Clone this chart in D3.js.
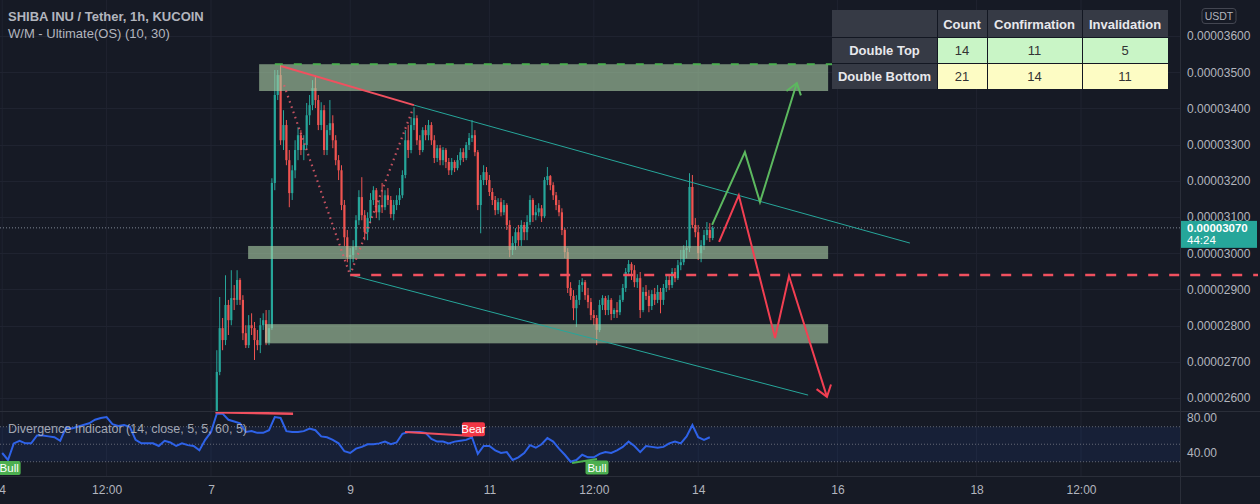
<!DOCTYPE html>
<html><head><meta charset="utf-8">
<script src="https://cdn.jsdelivr.net/npm/d3@7"></script>
<style>
html,body{margin:0;padding:0;background:#161a25;overflow:hidden;}
svg{display:block;}
text{font-family:"Liberation Sans",Arial,sans-serif;}
</style></head><body>
<svg id="chart" width="1260" height="504"></svg>
<script>
// ---------------- DATA ----------------
// Prices in units of 1e-8 USDT. Candles are hourly, first one at Dec 7 02:00.
const baseDay = new Date(2021, 11, 7, 0, 0);
const firstCandleHour = 2;
const candleOHLC = [
[2561,2732,2556,2672],[2672,2879,2663,2793],[2793,2821,2732,2760],[2760,2939,2746,2857],
[2857,2871,2774,2815],[2815,2953,2801,2876],[2876,2912,2843,2871],[2871,2953,2857,2926],
[2926,2931,2857,2871],[2871,2884,2760,2779],[2779,2801,2738,2746],[2746,2829,2738,2801],
[2801,2834,2774,2793],[2793,2810,2705,2760],[2760,2788,2732,2746],[2746,2821,2724,2801],
[2801,2834,2788,2815],[2815,2843,2746,2754],[2754,2843,2746,2793],[2793,3207,2788,3194],
[3194,3506,3174,3437],[3437,3506,3423,3492],[3492,3522,3299,3312],[3312,3395,3285,3354],
[3354,3368,3243,3257],[3257,3285,3127,3166],[3166,3243,3147,3229],[3229,3312,3207,3285],
[3285,3348,3257,3326],[3326,3340,3271,3285],[3285,3326,3257,3299],[3299,3415,3285,3381],
[3381,3437,3354,3409],[3409,3478,3395,3456],[3456,3489,3401,3423],[3423,3437,3340,3354],
[3354,3417,3340,3395],[3395,3409,3271,3285],[3285,3354,3271,3340],[3340,3423,3326,3359],
[3359,3381,3290,3312],[3312,3326,3243,3257],[3257,3271,3202,3229],[3229,3243,3119,3133],
[3133,3147,3020,3044],[3044,3064,2975,2989],[2989,3014,2948,2995],[2995,3036,2975,3017],
[3017,3105,3009,3091],[3091,3174,3078,3155],[3155,3210,3091,3105],[3105,3119,3036,3058],
[3058,3113,3036,3097],[3097,3166,3083,3147],[3147,3185,3133,3174],[3174,3180,3097,3113],
[3113,3147,3091,3133],[3133,3194,3111,3127],[3127,3174,3119,3160],[3160,3180,3133,3147],
[3147,3158,3097,3108],[3108,3147,3091,3133],[3133,3160,3119,3147],[3147,3180,3133,3160],
[3160,3229,3152,3216],[3216,3340,3207,3312],[3312,3354,3263,3285],[3285,3376,3276,3354],
[3354,3403,3340,3373],[3373,3381,3299,3312],[3312,3326,3271,3285],[3285,3348,3279,3340],
[3340,3354,3312,3326],[3326,3368,3312,3354],[3354,3362,3299,3312],[3312,3326,3249,3263],
[3263,3299,3252,3290],[3290,3299,3243,3257],[3257,3293,3243,3285],[3285,3290,3235,3252],
[3252,3263,3216,3229],[3229,3263,3216,3252],[3252,3257,3224,3235],[3235,3271,3229,3257],
[3257,3290,3243,3279],[3279,3290,3252,3263],[3263,3307,3257,3299],[3299,3332,3285,3318],
[3318,3368,3307,3326],[3326,3340,3268,3279],[3279,3285,3119,3133],[3133,3216,3055,3202],
[3202,3243,3188,3224],[3224,3238,3188,3202],[3202,3216,3158,3169],[3169,3180,3133,3147],
[3147,3158,3105,3119],[3119,3152,3108,3141],[3141,3152,3102,3113],[3113,3147,3105,3133],
[3133,3138,3064,3078],[3078,3091,2989,3009],[3009,3047,2995,3028],[3028,3069,3009,3058],
[3058,3078,3020,3036],[3036,3091,3020,3078],[3078,3086,3036,3058],[3058,3105,3036,3086],
[3086,3160,3078,3147],[3147,3152,3086,3105],[3105,3133,3091,3113],[3113,3138,3102,3124],
[3124,3133,3086,3102],[3102,3210,3097,3202],[3202,3238,3188,3213],[3213,3216,3174,3188],
[3188,3196,3147,3160],[3160,3169,3119,3133],[3133,3147,3102,3113],[3113,3124,3050,3064],
[3064,3069,2986,3003],[3003,3014,2890,2904],[2904,2920,2871,2882],[2882,2898,2815,2848],
[2848,2884,2796,2871],[2871,2926,2857,2912],[2912,2931,2893,2920],[2920,2926,2871,2884],
[2884,2904,2848,2865],[2865,2876,2815,2829],[2829,2843,2801,2821],[2821,2829,2746,2788],
[2788,2871,2782,2857],[2857,2884,2843,2876],[2876,2882,2829,2843],[2843,2884,2829,2871],
[2871,2876,2815,2832],[2832,2848,2821,2843],[2843,2865,2821,2837],[2837,2884,2829,2871],
[2871,2915,2865,2904],[2904,2959,2893,2948],[2948,2981,2937,2970],[2970,2975,2926,2953],
[2953,2967,2906,2920],[2920,2942,2904,2931],[2931,2948,2821,2843],[2843,2906,2837,2893],
[2893,2912,2871,2882],[2882,2898,2837,2854],[2854,2898,2843,2887],[2887,2904,2857,2871],
[2871,2912,2862,2893],[2893,2904,2834,2871],[2871,2915,2857,2904],[2904,2937,2893,2926],
[2926,2939,2898,2912],[2912,2959,2904,2948],[2948,2959,2920,2931],[2931,2981,2926,2967],
[2967,3009,2953,2975],[2975,3022,2967,3009],[3009,3036,2986,3014],[3014,3221,3003,3183],
[3183,3216,3069,3078],[3078,3097,3044,3058],[3058,3078,2981,3000],[3000,3036,2975,3022],
[3022,3064,3009,3050],[3050,3086,3036,3064],[3064,3083,3031,3042],[3042,3075,3036,3070]
];
const lastPrice = 3070;
const countdown = "44:24";

// Oscillator (Divergence Indicator) values, every 2 hours from Dec 4 00:00
const rsiStart = new Date(2021, 11, 4, 0, 0);
const rsiStepHours = 2;
const rsiValues = [
40,32,51,54,51,51,60,60,59,58,54,69,68,70,72,74,78,80,81,73,
71,72,70,55,51,51,51,48,54,52,48,51,49,48,43,55,64,85,85,78,
76,74,64,65,63,63,66,81,80,65,64,64,65,68,66,59,58,55,51,42,
40,45,47,50,50,51,53,50,52,62,64,64,64,63,56,53,53,51,53,54,
55,58,39,48,48,43,40,41,32,35,40,49,46,50,57,53,45,38,30,32,
38,35,35,39,41,40,43,47,53,48,41,48,47,46,47,51,53,51,59,72,
58,55,58
];

// Axis ticks
const priceTicks = [2600,2700,2800,2900,3000,3100,3200,3300,3400,3500,3600];
const rsiTicks = [80,40];
const rsiBands = [70,50,30];
const timeTicks = [new Date(2021,11,4),new Date(2021,11,5,12),new Date(2021,11,7),new Date(2021,11,9),
  new Date(2021,11,11),new Date(2021,11,12,12),new Date(2021,11,14),new Date(2021,11,16),
  new Date(2021,11,18),new Date(2021,11,19,12)];
const timeLabels = ["4","12:00","7","9","11","12:00","14","16","18","12:00"];

// Drawings: [hours from Dec 7 00:00, price]
const zones = [
  {from:16.6, to:212.8, top:3522, bottom:3448},
  {from:12.8, to:212.8, top:3020, bottom:2984},
  {from:18.6, to:212.8, top:2804, bottom:2751}
];
const topTrend = [[24.1,3517],[70,3409]];
const upperChannel = [[70,3409],[241,3028]];
const lowerChannel = [[47.9,2940],[205.9,2608]];
const dottedLegs = [[[25.2,3464],[47.6,2948]],[[48.6,2953],[69.7,3401]]];
const greenDashed = {from:22, to:329, price:3522};
const redDashed = {from:48, price:2940};
const greenPath = [[172.8,3078],[184.1,3279],[189.3,3141],[202,3470]];
const redPath = [[175.2,3031],[182,3160],[194.5,2766],[199.3,2937],[212.4,2603]];

// Divergence marks: [hours from Dec 7, oscillator value]
const bearLine = [[66.9,64],[90.3,59.4]];
const bearTopLine = [[1.5,86.5],[28.3,85]];
const bullLine = [[124.5,28.6],[133.1,33.1]];
const bullLabels = [[-69.6,32.5],[133.1,33.1]];
const bearLabels = [[90.5,58]];

// Stats table
const tableHeader = ["", "Count", "Confirmation", "Invalidation"];
const tableRows = [["Double Top",14,11,5],["Double Bottom",21,14,11]];

// ---------------- CHART ----------------
const W = 1260, H = 504;
const paneRight = 1180, mainBottom = 411, oscTop = 412, oscBottom = 476;
const svg = d3.select("#chart");
const C = {bg:"#161a25", grid:"#1f2330", text:"#b2b5be", up:"#26a69a", down:"#ef5350",
  line:"#2a2e39", red:"#f0505f", green:"#4caf50", teal:"#26a69a", blue:"#2e62e8"};

const hr = h => new Date(baseDay.getTime() + h*3600e3);
const x = d3.scaleTime().domain([new Date(2021,11,4), new Date(2021,11,20)]).range([2.2, 1115.8]);
const y = d3.scaleLinear().domain([2564.1, 3699.4]).range([mainBottom, 0]);
const yo = d3.scaleLinear().domain([13.7, 86.86]).range([oscBottom, oscTop]);
const X = h => x(hr(h));

svg.append("rect").attr("width",W).attr("height",H).attr("fill",C.bg);

// grid
const grid = svg.append("g");
grid.selectAll("line.v").data(timeTicks).join("line")
  .attr("x1",d=>x(d)).attr("x2",d=>x(d)).attr("y1",0).attr("y2",oscBottom)
  .attr("stroke",C.grid).attr("stroke-width",1);
grid.selectAll("line.h").data(priceTicks).join("line")
  .attr("x1",0).attr("x2",paneRight).attr("y1",d=>Math.round(y(d))+0.5).attr("y2",d=>Math.round(y(d))+0.5)
  .attr("stroke",C.grid).attr("stroke-width",1);

// clip
const defs = svg.append("defs");
defs.append("clipPath").attr("id","mainClip").append("rect").attr("x",0).attr("y",0).attr("width",paneRight).attr("height",mainBottom);
defs.append("clipPath").attr("id","oscClip").append("rect").attr("x",0).attr("y",oscTop-3).attr("width",paneRight).attr("height",oscBottom-oscTop+3);

const main = svg.append("g").attr("clip-path","url(#mainClip)");

// candles
const cg = main.append("g");
candleOHLC.forEach((c,i)=>{
  const h = firstCandleHour + i;
  const cx = X(h);
  const col = c[3] >= c[0] ? C.up : C.down;
  cg.append("line").attr("x1",cx).attr("x2",cx).attr("y1",y(c[1])).attr("y2",y(c[2]))
    .attr("stroke",col).attr("stroke-width",1);
  const top = y(Math.max(c[0],c[3])), bot = y(Math.min(c[0],c[3]));
  cg.append("rect").attr("x",cx-1.1).attr("width",2.2).attr("y",top).attr("height",Math.max(1,bot-top)).attr("fill",col);
});

// last price dotted line
main.append("line").attr("x1",0).attr("x2",paneRight).attr("y1",y(lastPrice)).attr("y2",y(lastPrice))
  .attr("stroke","#9aa3b0").attr("stroke-width",1).attr("stroke-dasharray","1,2").attr("opacity",0.8);

// zones
main.selectAll("rect.zone").data(zones).join("rect")
  .attr("x",d=>X(d.from)).attr("width",d=>X(d.to)-X(d.from))
  .attr("y",d=>y(d.top)).attr("height",d=>y(d.bottom)-y(d.top))
  .attr("fill","rgba(170,205,165,0.62)");

const line = d3.line().x(d=>X(d[0])).y(d=>y(d[1]));
// channels
main.append("path").attr("d",line(upperChannel)).attr("fill","none").attr("stroke",C.teal).attr("stroke-width",1);
main.append("path").attr("d",line(lowerChannel)).attr("fill","none").attr("stroke",C.teal).attr("stroke-width",1);
// top trend (red)
main.append("path").attr("d",line(topTrend)).attr("fill","none").attr("stroke",C.red).attr("stroke-width",2);
// dotted legs
dottedLegs.forEach(l=>main.append("path").attr("d",line(l)).attr("fill","none")
  .attr("stroke","#e05a6a").attr("stroke-width",2.2).attr("stroke-dasharray","1.6,4").attr("opacity",0.85));
// green dashed
main.append("line").attr("x1",X(greenDashed.from)).attr("x2",X(greenDashed.to))
  .attr("y1",y(greenDashed.price)).attr("y2",y(greenDashed.price))
  .attr("stroke",C.green).attr("stroke-width",2).attr("stroke-dasharray","8,11");

// projection paths with arrowheads
function arrowPath(pts, color){
  main.append("path").attr("d",line(pts)).attr("fill","none").attr("stroke",color)
    .attr("stroke-width",2).attr("stroke-linejoin","miter");
  const n = pts.length;
  const tx = X(pts[n-1][0]), ty = y(pts[n-1][1]);
  const px = X(pts[n-2][0]), py = y(pts[n-2][1]);
  const ang = Math.atan2(py-ty, px-tx);
  const L = 13, a = 0.62;
  const w1 = [tx + L*Math.cos(ang+a), ty + L*Math.sin(ang+a)];
  const w2 = [tx + L*Math.cos(ang-a), ty + L*Math.sin(ang-a)];
  main.append("path").attr("d",`M${w1[0]},${w1[1]}L${tx},${ty}L${w2[0]},${w2[1]}`)
    .attr("fill","none").attr("stroke",color).attr("stroke-width",2);
}
arrowPath(greenPath, "#5cb85f");
arrowPath(redPath, "#f23f52");

// red dashed (extends to right edge)
svg.append("line").attr("x1",X(redDashed.from)).attr("x2",1258)
  .attr("y1",y(redDashed.price)).attr("y2",y(redDashed.price))
  .attr("stroke",C.red).attr("stroke-width",2.5).attr("stroke-dasharray","10,11");

// ---- oscillator pane ----
const osc = svg.append("g").attr("clip-path","url(#oscClip)");
osc.append("rect").attr("x",0).attr("width",paneRight).attr("y",yo(70)).attr("height",yo(30)-yo(70))
  .attr("fill","rgba(33,100,243,0.09)");
osc.selectAll("line.band").data(rsiBands).join("line")
  .attr("x1",0).attr("x2",paneRight).attr("y1",d=>yo(d)).attr("y2",d=>yo(d))
  .attr("stroke","#787b86").attr("stroke-width",1).attr("stroke-dasharray","1,2").attr("opacity",0.8);
const rsiLine = d3.line().x((d,i)=>x(new Date(rsiStart.getTime()+i*rsiStepHours*3600e3))).y(d=>yo(d));
osc.append("path").attr("d",rsiLine(rsiValues)).attr("fill","none").attr("stroke",C.blue).attr("stroke-width",2);
const oline = d3.line().x(d=>X(d[0])).y(d=>yo(d[1]));
osc.append("path").attr("d",oline(bearLine)).attr("fill","none").attr("stroke",C.red).attr("stroke-width",2);
osc.append("path").attr("d",oline(bearTopLine)).attr("fill","none").attr("stroke",C.red).attr("stroke-width",2.5);
osc.append("path").attr("d",oline(bullLine)).attr("fill","none").attr("stroke",C.green).attr("stroke-width",2);

// labels
function tag(h, v, txt, col, below){
  const cx = X(h), w = 23, hh = 14;
  const top = below ? yo(v)+1.5 : yo(v)-hh-1;
  svg.append("rect").attr("x",cx-w/2).attr("y",top).attr("width",w).attr("height",hh).attr("rx",2).attr("fill",col);
  svg.append("text").attr("x",cx).attr("y",top+11).attr("text-anchor","middle").attr("fill","#fff")
    .attr("font-size",11.5).text(txt);
}
bullLabels.forEach(d=>tag(d[0],d[1],"Bull","#4caf50",true));
bearLabels.forEach(d=>tag(d[0],d[1],"Bear","#f23645",false));

svg.append("text").attr("x",8).attr("y",433).attr("fill",C.text).attr("font-size",12.5)
  .attr("opacity",0.9).text("Divergence Indicator (14, close, 5, 5, 60, 5)");

// pane separators
svg.append("line").attr("x1",0).attr("x2",W).attr("y1",411.5).attr("y2",411.5).attr("stroke",C.line);
svg.append("line").attr("x1",0).attr("x2",W).attr("y1",476.5).attr("y2",476.5).attr("stroke",C.line);
svg.append("line").attr("x1",paneRight+0.5).attr("x2",paneRight+0.5).attr("y1",0).attr("y2",H).attr("stroke",C.line);

// price axis
const pAxis = svg.append("g").attr("transform",`translate(${paneRight},0)`)
  .call(d3.axisRight(y).tickValues(priceTicks).tickSize(0).tickPadding(7)
    .tickFormat(d=>(d*1e-8).toFixed(8)));
pAxis.select(".domain").remove();
pAxis.selectAll("text").attr("fill",C.text).attr("font-size",12).attr("font-family","Liberation Sans, Arial, sans-serif");

const oAxis = svg.append("g").attr("transform",`translate(${paneRight},0)`)
  .call(d3.axisRight(yo).tickValues(rsiTicks).tickSize(0).tickPadding(7).tickFormat(d=>d.toFixed(2)));
oAxis.select(".domain").remove();
oAxis.selectAll("text").attr("fill",C.text).attr("font-size",12).attr("font-family","Liberation Sans, Arial, sans-serif");

// time axis
const tAxis = svg.append("g").attr("transform",`translate(0,${oscBottom})`)
  .call(d3.axisBottom(x).tickValues(timeTicks).tickSize(0).tickPadding(9)
    .tickFormat((d,i)=>timeLabels[i]));
tAxis.select(".domain").remove();
tAxis.selectAll("text").attr("fill",C.text).attr("font-size",12).attr("font-family","Liberation Sans, Arial, sans-serif");

// USDT badge
svg.append("rect").attr("x",1202).attr("y",8.5).attr("width",34).attr("height",15).attr("rx",3)
  .attr("fill","none").attr("stroke","#434651");
svg.append("text").attr("x",1219).attr("y",20).attr("text-anchor","middle").attr("fill",C.text)
  .attr("font-size",10.5).text("USDT");

// last price label
const ly = y(lastPrice);
svg.append("rect").attr("x",paneRight+1).attr("y",ly-7).attr("width",76).attr("height",27).attr("fill",C.up);
svg.append("text").attr("x",1187).attr("y",ly+4.5).attr("fill","#fff").attr("font-size",11.5).attr("font-weight","bold").text((lastPrice*1e-8).toFixed(8));
svg.append("text").attr("x",1187).attr("y",ly+16.5).attr("fill","#fff").attr("font-size",11.5).text(countdown);

// title
svg.append("text").attr("x",8).attr("y",21).attr("fill",C.text).attr("font-size",13).attr("font-weight","bold")
  .text("SHIBA INU / Tether, 1h, KUCOIN");
svg.append("text").attr("x",8).attr("y",38).attr("fill",C.text).attr("font-size",13)
  .text("W/M - Ultimate(OS) (10, 30)");

// table
const colX = [832, 937, 987, 1082, 1168];
const rowY = [10, 37, 63, 89];
const rowBg = ["#c9f5c6", "#fdfcc4"];
const tg = svg.append("g");
tg.append("rect").attr("x",colX[0]).attr("y",rowY[0]).attr("width",colX[4]-colX[0]).attr("height",rowY[3]-rowY[0]).attr("fill","#131722");
const cells = [];
[tableHeader, ...tableRows].forEach((row,r)=>{
  row.forEach((v,c)=>{
    const head = r===0 || c===0;
    cells.push({r,c,v,head});
  });
});
tg.selectAll("rect.cell").data(cells).join("rect")
  .attr("x",d=>colX[d.c]+(d.c>0?1:0)).attr("y",d=>rowY[d.r]+(d.r>0?1:0))
  .attr("width",d=>colX[d.c+1]-colX[d.c]-(d.c>0?1:0)).attr("height",d=>rowY[d.r+1]-rowY[d.r]-(d.r>0?1:0))
  .attr("fill",d=>d.head ? "#363a45" : rowBg[d.r-1]);
tg.selectAll("text.cell").data(cells).join("text")
  .attr("x",d=>(colX[d.c]+colX[d.c+1])/2).attr("y",d=>(rowY[d.r]+rowY[d.r+1])/2+5)
  .attr("text-anchor","middle").attr("font-size",13)
  .attr("font-weight",d=>d.head?"bold":"normal")
  .attr("fill",d=>d.head?"#e8e8ec":"#333")
  .text(d=>d.v);
</script>
</body></html>
